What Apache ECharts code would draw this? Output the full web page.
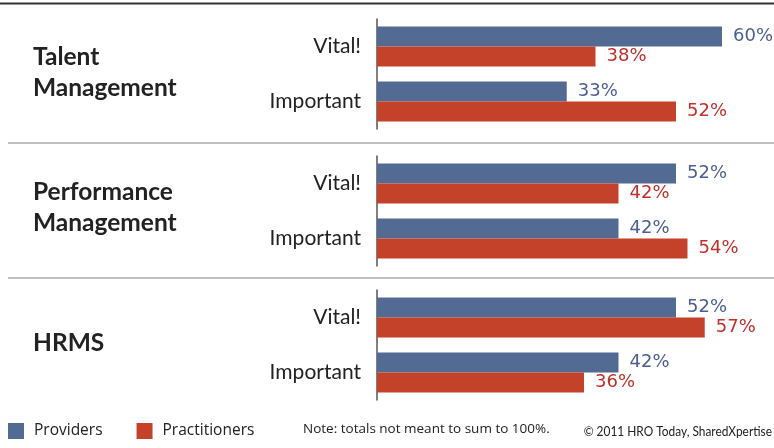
<!DOCTYPE html>
<html>
<head>
<meta charset="utf-8">
<script src="https://cdn.jsdelivr.net/npm/echarts@6/dist/echarts.min.js"></script>
<style>
  html, body { margin: 0; padding: 0; background: #fff; }
  #main { width: 774px; height: 448px; }
</style>
</head>
<body>
<div id="main"></div>
<script>
// chart data
var groups = ['Talent\nManagement', 'Performance\nManagement', 'HRMS'];
var levels = ['Vital!', 'Important'];
var providers = [[60, 33], [52, 42], [52, 42]];
var practitioners = [[38, 52], [42, 54], [57, 36]];
var seriesNames = ['Providers', 'Practitioners'];
var noteText = 'Note: totals not meant to sum to 100%.';
var creditText = '\u00A9 2011 HRO Today, SharedXpertise';

var blue = '#536a93';
var red = '#c44229';
var gridTops = [19, 156, 290];
var titleY = [73, 208, 343];

var myChart = echarts.init(document.getElementById('main'));

var grids = [], xAxes = [], yAxes = [], series = [];
groups.forEach(function (g, i) {
  grids.push({ left: 377, right: 52, top: gridTops[i], height: 110 });
  xAxes.push({ type: 'value', gridIndex: i, min: 0, max: 60, show: false });
  yAxes.push({
    type: 'category',
    gridIndex: i,
    data: levels,
    inverse: true,
    axisLine: { show: true, lineStyle: { color: '#555', width: 1.5 } },
    axisTick: { show: false },
    axisLabel: { margin: 16, fontFamily: 'Lato', fontSize: 21, color: '#222' }
  });
  [providers[i], practitioners[i]].forEach(function (vals, k) {
    series.push({
      type: 'bar',
      name: seriesNames[k],
      xAxisIndex: i,
      yAxisIndex: i,
      data: vals,
      barWidth: 20,
      barGap: '0%',
      itemStyle: { color: k === 0 ? blue : red },
      label: {
        show: true,
        position: 'right',
        distance: 11,
        formatter: '{c}%',
        fontFamily: 'DejaVu Sans',
        fontSize: 18,
        color: k === 0 ? '#4a5f8e' : '#c0302a'
      }
    });
  });
});

var graphics = [
  { type: 'line', shape: { x1: 0, y1: 3.5, x2: 774, y2: 3.5 }, style: { stroke: '#333', lineWidth: 2 } },
  { type: 'line', shape: { x1: 8, y1: 143, x2: 774, y2: 143 }, style: { stroke: '#aaa', lineWidth: 1.5 } },
  { type: 'line', shape: { x1: 8, y1: 278, x2: 774, y2: 278 }, style: { stroke: '#aaa', lineWidth: 1.5 } },
  {
    type: 'text', left: 303, top: 422,
    style: { text: noteText, fontFamily: 'Open Sans', fontSize: 13.5, fill: '#222' }
  },
  {
    // condensed look: squeeze the text horizontally
    type: 'text', x: 772, y: 431, scaleX: 0.85,
    style: {
      text: creditText, fontFamily: 'Lato', fontSize: 14, fill: '#222',
      align: 'right', verticalAlign: 'middle'
    }
  }
];
groups.forEach(function (g, i) {
  graphics.push({
    type: 'text',
    x: 33,
    y: titleY[i],
    style: {
      text: g,
      fontFamily: 'Lato',
      fontWeight: 'bold',
      fontSize: 24.5,
      lineHeight: 31,
      fill: '#222',
      verticalAlign: 'middle'
    }
  });
});

option = {
  animation: false,
  legend: {
    data: seriesNames,
    left: 8,
    top: 423,
    padding: 0,
    icon: 'rect',
    itemWidth: 16,
    itemHeight: 16,
    itemGap: 34,
    textStyle: { fontFamily: 'Open Sans', fontSize: 15.5, color: '#222', padding: [0, 0, 0, 5] }
  },
  grid: grids,
  xAxis: xAxes,
  yAxis: yAxes,
  series: series,
  graphic: graphics
};
myChart.setOption(option);
</script>
</body>
</html>
